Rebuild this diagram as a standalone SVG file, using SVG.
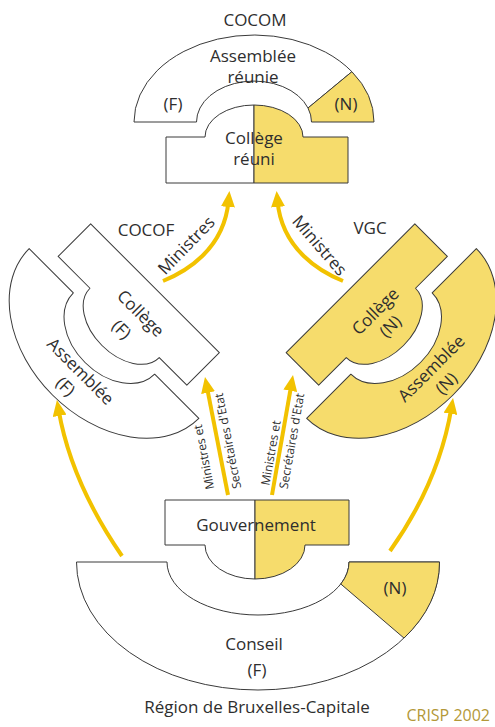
<svg xmlns="http://www.w3.org/2000/svg" width="495" height="727" viewBox="0 0 495 727">
<style>
.ln{stroke:#3a3a3a;stroke-width:1;stroke-linejoin:round}
.w{fill:#ffffff}
.y{fill:#f6dc6c}
.t{font-family:"Open Sans","Liberation Sans",sans-serif;font-size:17px;fill:#2e2e2e;text-anchor:middle}
.s{font-size:12px}
.arr{fill:none;stroke:#f2c200;stroke-width:4;marker-end:url(#ah)}
</style>
<defs>
<marker id="ah" markerUnits="userSpaceOnUse" viewBox="0 0 16 14" markerWidth="16" markerHeight="14" refX="6" refY="7" orient="auto">
<path d="M0,0 L16,7 L0,14 Z" fill="#f2c200"/>
</marker>
<path id="assemblee" d="M-120,0 A120,87 0 0 1 120,0 L57.5,0 A57.5,41 0 0 0 -57.5,0 Z"/>
<path id="college" d="M-88,61 L-88,15 L-49,15 A49,32 0 0 1 49,15 L94,15 L94,61 Z"/>
</defs>

<g id="connectors">
<path class="arr" d="M163,281 C185,272 224,250 228.5,201"/>
<path class="arr" d="M343,281 C321,272 282,250 277.5,201"/>
<path class="arr" d="M228,495 L206.9,386.8"/>
<path class="arr" d="M272,495 L291.3,384.9"/>
<path class="arr" d="M122,556 Q71,482 58.6,409.9"/>
<path class="arr" d="M390,551 Q439,482 451.4,407.9"/>
<text class="t" transform="translate(187,246) rotate(-46)" x="0" y="5">Ministres</text>
<text class="t" transform="translate(319,246) rotate(49)" x="0" y="5">Ministres</text>
<text class="t s" transform="translate(204,457) rotate(-101)" x="0" y="4">Ministres et</text>
<text class="t s" transform="translate(228,441) rotate(-101)" x="0" y="4">Secrétaires d'Etat</text>
<text class="t s" transform="translate(271,453) rotate(-80)" x="0" y="4">Ministres et</text>
<text class="t s" transform="translate(292,441) rotate(-80)" x="0" y="4">Secrétaires d'Etat</text>
</g>

<g id="cocom">
<text class="t" x="255" y="26">COCOM</text>
<g transform="translate(254,122)">
<path class="ln w" d="M-120,0 A120,87 0 0 1 97.9,-50.3 L54,-14 A57.5,41 0 0 0 -57.5,0 Z"/>
<path class="ln y" d="M97.9,-50.3 A120,87 0 0 1 120,0 L57.5,0 A57.5,41 0 0 0 54,-14 Z"/>
<path class="ln w" d="M-88,61 L-88,15 L-49,15 A49,32 0 0 1 0,-17 L0,61 Z"/>
<path class="ln y" d="M0,61 L0,-17 A49,32 0 0 1 49,15 L94,15 L94,61 Z"/>
</g>
<text class="t" x="253" y="62">Assemblée</text>
<text class="t" x="253" y="83">réunie</text>
<text class="t" x="173" y="110">(F)</text>
<text class="t" x="346" y="110">(N)</text>
<text class="t" x="254" y="144">Collège</text>
<text class="t" x="254" y="165">réuni</text>
</g>

<g id="cocof">
<text class="t" x="146" y="236">COCOF</text>
<g transform="translate(114,333.5) rotate(-135)">
<use href="#assemblee" class="ln w"/>
<use href="#college" class="ln w"/>
</g>
<text class="t" transform="translate(140,314) rotate(45)" x="0" y="5">Collège</text>
<text class="t" transform="translate(121,330) rotate(45)" x="0" y="5">(F)</text>
<text class="t" transform="translate(80,372) rotate(45)" x="0" y="5">Assemblée</text>
<text class="t" transform="translate(65,387) rotate(45)" x="0" y="5">(F)</text>
</g>

<g id="vgc">
<text class="t" x="370" y="234">VGC</text>
<g transform="translate(391.5,333.5) scale(-1,1) rotate(-135)">
<use href="#assemblee" class="ln y"/>
<use href="#college" class="ln y"/>
</g>
<text class="t" transform="translate(376,312) rotate(-45)" x="0" y="5">Collège</text>
<text class="t" transform="translate(391,327) rotate(-45)" x="0" y="5">(N)</text>
<text class="t" transform="translate(432,369) rotate(-45)" x="0" y="5">Assemblée</text>
<text class="t" transform="translate(447,384) rotate(-45)" x="0" y="5">(N)</text>
</g>

<g id="conseil">
<g transform="translate(258,562)">
<path class="ln w" d="M-181.5,0 A181.5,128 0 0 0 181.5,0 L91,0 A91,53 0 0 1 -91,0 Z"/>
<path class="ln y" d="M91,0 L181.5,0 A181.5,128 0 0 1 146,76.1 L82.8,22 A91,53 0 0 0 91,0 Z"/>
</g>
<text class="t" x="254" y="650">Conseil</text>
<text class="t" x="257" y="676">(F)</text>
<text class="t" x="395" y="594">(N)</text>
</g>

<g id="gouvernement">
<g transform="translate(255,545)">
<path class="ln w" d="M0,-45 L-90,-45 L-90,0 L-50,0 A50,34 0 0 0 0,34 Z"/>
<path class="ln y" d="M0,-45 L94,-45 L94,0 L50,0 A50,34 0 0 1 0,34 Z"/>
</g>
<text class="t" x="256" y="531">Gouvernement</text>
</g>

<g id="caption">
<text class="t" x="257" y="713">Région de Bruxelles-Capitale</text>
<text class="t" x="490" y="721" style="fill:#b39838;font-size:16px;text-anchor:end">CRISP 2002</text>
</g>
</svg>
